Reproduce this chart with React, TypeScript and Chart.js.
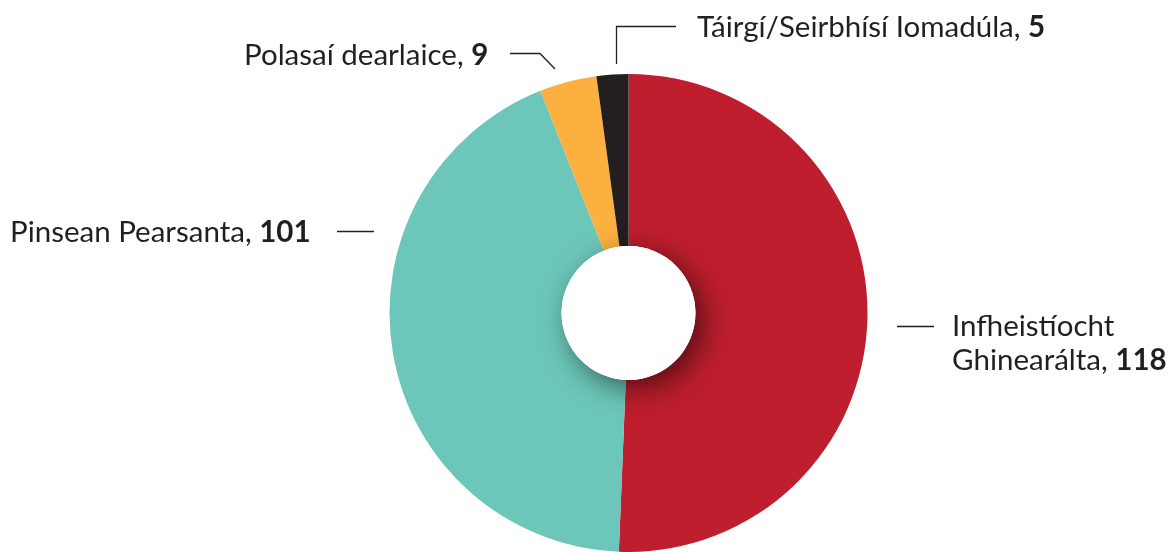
import React, { useEffect, useRef } from "react";
import { Chart, registerables } from "chart.js";

Chart.register(...registerables);

const categories = ["Infheistíocht Ghinearálta", "Pinsean Pearsanta", "Polasaí dearlaice", "Táirgí/Seirbhísí Iomadúla"];
const values = [118, 101, 9, 5];
const colors = ["#BE1E2D", "#6CC6B9", "#FBB040", "#231F20"];

const TEXT = "#231F20";
const FONT = "Lato, 'Noto Sans', sans-serif";

const labelPlugin = {
  id: "labels",
  afterDatasetsDraw(chart: any) {
    const ctx = chart.ctx as CanvasRenderingContext2D;
    const meta = chart.getDatasetMeta(0);
    const arc = meta.data[0] as any;
    const cx = arc.x, cy = arc.y;
    const ir = arc.innerRadius;

    // inner white disc with shadow
    ctx.save();
    ctx.beginPath();
    ctx.arc(cx, cy, ir, 0, Math.PI * 2);
    ctx.fillStyle = "#ffffff";
    ctx.shadowColor = "rgba(0,0,0,0.55)";
    ctx.shadowBlur = 28;
    ctx.shadowOffsetX = 8;
    ctx.shadowOffsetY = 8;
    ctx.fill();
    ctx.restore();
    ctx.save();
    ctx.beginPath();
    ctx.arc(cx, cy, ir, 0, Math.PI * 2);
    ctx.fillStyle = "#ffffff";
    ctx.fill();
    ctx.restore();

    const size = 29.5;
    const drawLabel = (text: string, num: string, x: number, y: number) => {
      ctx.font = `400 ${size}px ${FONT}`;
      ctx.fillStyle = TEXT;
      ctx.textBaseline = "middle";
      ctx.textAlign = "left";
      ctx.fillText(text, x, y);
      const w = ctx.measureText(text).width;
      if (num) {
        ctx.font = `700 ${size}px ${FONT}`;
        ctx.fillText(num, x + w, y);
      }
    };
    const line = (pts: number[][]) => {
      ctx.save();
      ctx.strokeStyle = TEXT;
      ctx.lineWidth = 1.3;
      ctx.beginPath();
      ctx.moveTo(pts[0][0], pts[0][1]);
      for (let i = 1; i < pts.length; i++) ctx.lineTo(pts[i][0], pts[i][1]);
      ctx.stroke();
      ctx.restore();
    };

    ctx.save();
    // Táirgí
    line([[616.5, 64], [616.5, 26.5], [676, 26.5]]);
    drawLabel("Táirgí/Seirbhísí Iomadúla, ", String(values[3]), 697, 27);
    // Polasaí
    line([[510, 53.5], [540, 53.5], [555, 69]]);
    drawLabel("Polasaí dearlaice, ", String(values[2]), 244, 55);
    // Pinsean
    line([[337, 231.5], [374, 231.5]]);
    drawLabel("Pinsean Pearsanta, ", String(values[1]), 10, 232);
    // Infheistíocht
    line([[897, 326.5], [934, 326.5]]);
    drawLabel("Infheistíocht", "", 952, 326);
    drawLabel("Ghinearálta, ", String(values[0]), 952, 360);
    ctx.restore();
  },
};

export default function App() {
  const ref = useRef<HTMLCanvasElement | null>(null);
  useEffect(() => {
    document.body.style.margin = "0";
    const chart = new Chart(ref.current as HTMLCanvasElement, {
      type: "doughnut",
      data: {
        labels: categories,
        datasets: [
          {
            data: values,
            backgroundColor: colors,
            borderWidth: 0,
          },
        ],
      },
      options: {
        responsive: false,
        animation: false,
        cutout: "28%",
        layout: { padding: { left: 389.5, right: 305.5, top: 74, bottom: 0 } },
        plugins: { legend: { display: false }, tooltip: { enabled: false } },
      },
      plugins: [labelPlugin],
    });
    return () => chart.destroy();
  }, []);
  return (
    <div style={{ width: 1173, height: 552, background: "#fff" }}>
      <canvas ref={ref} width={1173} height={552} style={{ display: "block" }} />
    </div>
  );
}
